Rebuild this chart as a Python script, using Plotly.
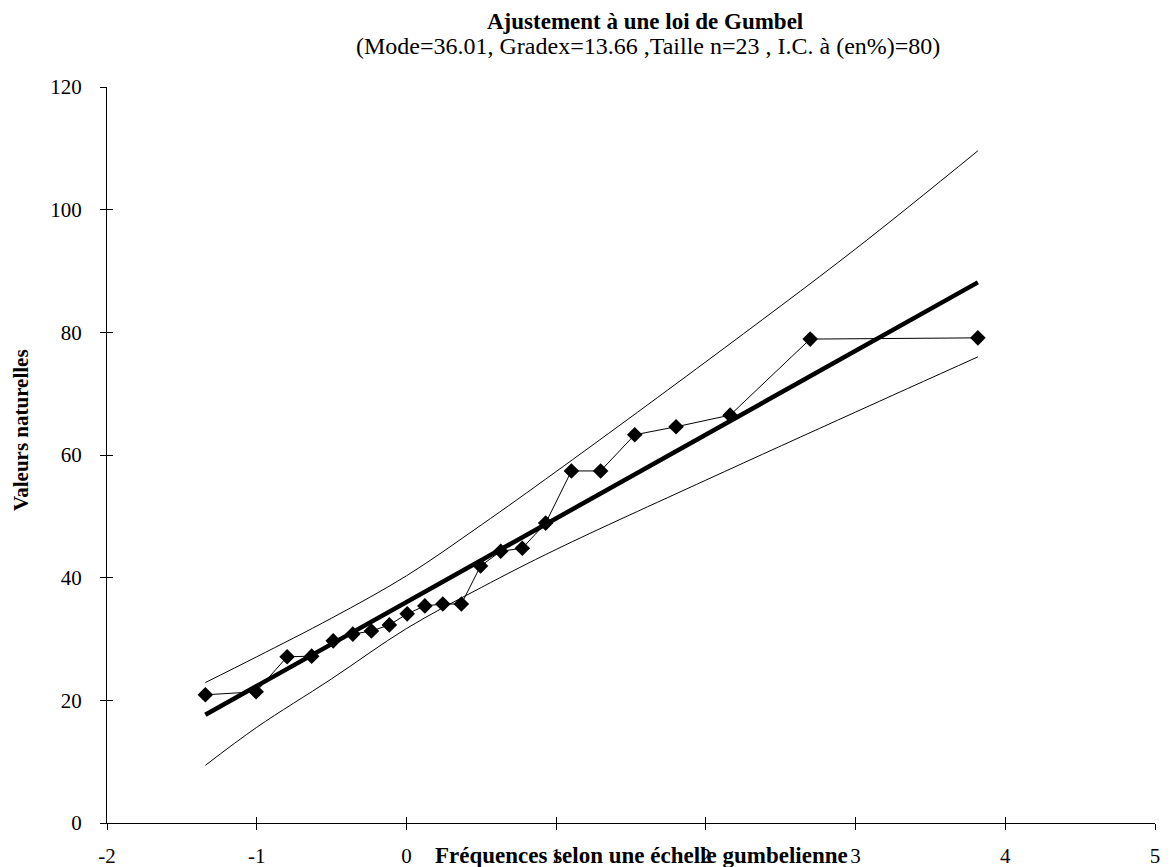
"""Ajustement à une loi de Gumbel: observed values, fitted line and 80% band."""
import plotly.graph_objects as go

SERIF = "Liberation Serif, Times New Roman, serif"

# reduced Gumbel variate of each ranked observation
u_obs = [-1.343, -1.004, -0.797, -0.633, -0.489, -0.358, -0.234, -0.114,
         0.005, 0.123, 0.243, 0.367, 0.495, 0.630, 0.774, 0.930,
         1.102, 1.297, 1.525, 1.801, 2.162, 2.697, 3.817]
x_obs = [20.9, 21.4, 27.1, 27.2, 29.7, 30.8, 31.3, 32.3,
         34.1, 35.4, 35.7, 35.7, 41.9, 44.3, 44.8, 48.9,
         57.4, 57.4, 63.3, 64.6, 66.5, 78.9, 79.1]

# fitted Gumbel line (mode 36.01, gradex 13.66)
u_fit = [-1.343, 3.817]
x_fit = [17.66, 88.15]

# confidence band
u_ci = [-1.343, -1.0, -0.5, 0.0, 0.5, 1.0, 2.0, 3.0, 3.817]
x_upper = [22.9, 27.1, 33.4, 40.3, 48.6, 57.3, 75.2, 93.6, 109.6]
x_lower = [9.4, 15.6, 23.5, 31.7, 38.4, 44.6, 55.9, 67.0, 76.0]

# axis ticks (plain hyphen for negatives, as in the original)
x_ticks = [-2, -1, 0, 1, 2, 3, 4, 5]
x_ticklabels = ["-2", "-1", "0", "1", "2", "3", "4", "5"]
y_ticks = [0, 20, 40, 60, 80, 100, 120]

fig = go.Figure()
fig.add_trace(go.Scatter(x=u_ci, y=x_upper, mode="lines", line_shape="spline",
                         line=dict(color="black", width=1), name="borne sup"))
fig.add_trace(go.Scatter(x=u_ci, y=x_lower, mode="lines", line_shape="spline",
                         line=dict(color="black", width=1), name="borne inf"))
fig.add_trace(go.Scatter(x=u_fit, y=x_fit, mode="lines",
                         line=dict(color="black", width=4.5), name="Gumbel"))
fig.add_trace(go.Scatter(x=u_obs, y=x_obs, mode="lines+markers",
                         line=dict(color="black", width=1),
                         marker=dict(symbol="diamond", size=12, color="black"),
                         name="observations"))
# invisible trace so the overlay axes (inner half of crossing ticks) get drawn
fig.add_trace(go.Scatter(x=[-2], y=[0], xaxis="x2", yaxis="y2", mode="markers",
                         marker=dict(opacity=0), hoverinfo="skip"))

axis_common = dict(showgrid=False, zeroline=False, showline=True, linecolor="black",
                   linewidth=1, ticks="outside", ticklen=6, tickcolor="black",
                   automargin=False,
                   tickfont=dict(family=SERIF, size=21, color="black"))
inner = dict(showgrid=False, zeroline=False, ticks="inside", ticklen=6,
             tickcolor="black", showticklabels=False, automargin=False)
# the page body adds 8px on the left/top, so margins are trimmed by that much
fig.update_layout(
    width=1170, height=867,
    plot_bgcolor="white", paper_bgcolor="white",
    showlegend=False,
    margin=dict(l=99, r=23, t=79, b=52, autoexpand=False),
    xaxis=dict(range=[-2, 5], tickvals=x_ticks, ticktext=x_ticklabels,
               ticklabelstandoff=8, **axis_common),
    yaxis=dict(range=[0, 120], tickvals=y_ticks, ticklabelstandoff=14, **axis_common),
    xaxis2=dict(overlaying="x", range=[-2, 5], tickvals=x_ticks, anchor="y2", **inner),
    yaxis2=dict(overlaying="y", range=[0, 120], tickvals=y_ticks, anchor="x2", **inner),
)

# texts placed in screen pixels relative to the plot area (107..1155 x 87..823)
plot_h = 823 - 87
plot_w = 1155 - 107
fig.add_annotation(text="<b>Ajustement à une loi de Gumbel</b>", xref="paper", yref="paper",
                   x=(645 - 107) / plot_w, y=1 + (87 - 21) / plot_h, yanchor="middle",
                   showarrow=False, font=dict(family=SERIF, size=23, color="black"))
fig.add_annotation(text="(Mode=36.01, Gradex=13.66 ,Taille n=23 , I.C. à (en%)=80)",
                   xref="paper", yref="paper", x=(648 - 107) / plot_w,
                   y=1 + (87 - 46) / plot_h, yanchor="middle", showarrow=False,
                   font=dict(family=SERIF, size=24, color="black"))
fig.add_annotation(text="<b>Fréquences selon une échelle gumbelienne</b>", xref="paper",
                   yref="paper", x=(641 - 107) / plot_w, y=-(855 - 823) / plot_h,
                   yanchor="middle", showarrow=False,
                   font=dict(family=SERIF, size=23, color="black"))
fig.add_annotation(text="<b>Valeurs naturelles</b>", xref="paper", yref="paper",
                   x=-(107 - 21) / plot_w, xanchor="center", y=(823 - 430) / plot_h,
                   yanchor="middle", textangle=-90, showarrow=False,
                   font=dict(family=SERIF, size=21, color="black"))

fig.write_html("out.html")
